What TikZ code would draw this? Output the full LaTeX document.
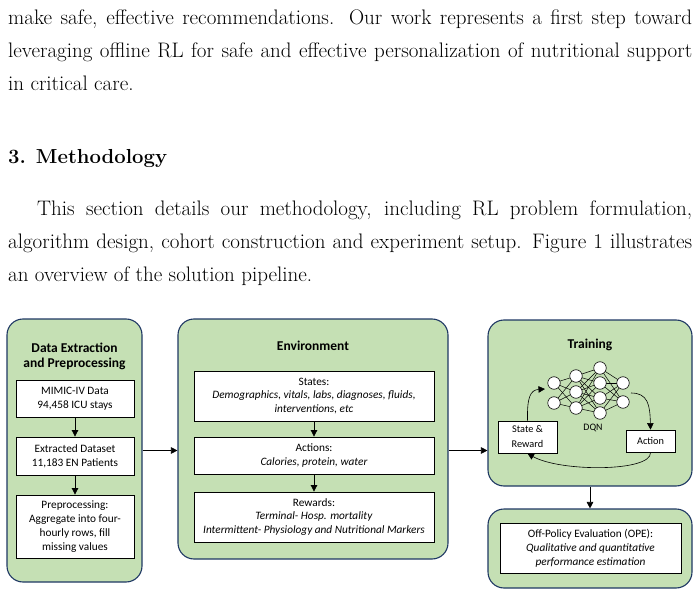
\documentclass[tikz,border=0pt]{standalone}
\usepackage{fontspec}
\newfontfamily\carl{Carlito}
\usetikzlibrary{arrows.meta,calc}
\definecolor{pgreen}{HTML}{C5E0B4}
\definecolor{pnavy}{HTML}{1F3864}
\tikzset{
  paper/.style={anchor=base west, inner sep=0pt, font=\fontsize{21}{33}\selectfont},
  panel/.style={draw=pnavy, line width=1.1pt, fill=pgreen, rounded corners=16pt, inner sep=0pt},
  ptitle/.style={inner sep=0pt, align=center, font=\carl\bfseries\fontsize{13.5}{15.5}\selectfont},
  box/.style={draw=black, line width=0.8pt, fill=white, inner sep=0pt, align=center, font=\carl\fontsize{11.3}{13.8}\selectfont},
  sbox/.style={draw=black, line width=0.8pt, fill=white, inner sep=0pt, align=center, font=\carl\fontsize{10.3}{15}\selectfont},
  arr/.style={-{Triangle[length=6.5pt,width=6.5pt]}, line width=0.7pt},
  nn/.style={circle, draw=black, line width=0.6pt, fill=white, minimum size=12.5pt, inner sep=0pt},
  nnline/.style={line width=0.5pt}
}
\begin{document}
\begin{tikzpicture}[x=1pt,y=-1pt]
\useasboundingbox (0,0) rectangle (699,596);
% paper text
\node[paper] (t1) at (8,25) {\makebox[684pt][s]{make safe, effective recommendations. Our work represents a first step toward}};
\node[paper] (t2) at (8,58) {\makebox[684pt][s]{leveraging offline RL for safe and effective personalization of nutritional support}};
\node[paper] (t3) at (8,91) {in critical care.};
\node[paper, font=\bfseries\fontsize{20.3}{33}\selectfont] (h) at (8,164) {3.\hspace{10pt}Methodology};
\node[paper] (p1) at (8,216) {\makebox[684pt][s]{\hspace{29pt}This section details our methodology, including RL problem formulation,}};
\node[paper] (p2) at (8,249) {\makebox[684pt][s]{algorithm design, cohort construction and experiment setup. Figure 1 illustrates}};
\node[paper] (p3) at (8,282) {an overview of the solution pipeline.};

% panels
\node[panel, minimum width=135pt, minimum height=263pt] (lp) at (74.5,450.5) {};
\node[panel, minimum width=270pt, minimum height=240pt] (env) at (313,439) {};
\node[panel, minimum width=204pt, minimum height=166pt] (tr) at (590,403) {};
\node[panel, minimum width=204pt, minimum height=79pt] (ope) at (590,548.5) {};

% titles
\node[ptitle] (lpt) at (74.5,356.5) {Data Extraction\\and Preprocessing};
\node[ptitle] (envt) at (313,346) {Environment};
\node[ptitle] (trt) at (590,345) {Training};

% left boxes
\node[box, minimum width=118pt, minimum height=37pt] (mimic) at (75,398.5) {MIMIC-IV Data\\94,458 ICU stays};
\node[box, minimum width=118pt, minimum height=38pt] (ext) at (75,456) {Extracted Dataset\\11,183 EN Patients};
\node[box, minimum width=118pt, minimum height=63pt] (pre) at (75,526.5) {Preprocessing:\\Aggregate into four-\\hourly rows, fill\\missing values};

% env boxes
\node[box, minimum width=240pt, minimum height=50pt] (st) at (314,396) {States:\\\textit{Demographics, vitals, labs, diagnoses, fluids,}\\\textit{interventions, etc}};
\node[box, minimum width=240pt, minimum height=37pt] (ac) at (314,455.5) {Actions:\\\textit{Calories, protein, water}};
\node[box, minimum width=240pt, minimum height=50pt] (rw) at (314,517) {Rewards:\\\textit{Terminal- Hosp. mortality}\\\textit{Intermittent- Physiology and Nutritional Markers}};

% ope box
\node[box, minimum width=181pt, minimum height=50pt] (opeb) at (590.5,548) {Off-Policy Evaluation (OPE):\\\textit{Qualitative and quantitative}\\\textit{performance estimation}};

% training boxes
\node[sbox, minimum width=59pt, minimum height=32pt] (sr) at (527.5,437) {State \&\\Reward};
\node[sbox, minimum width=49pt, minimum height=22pt] (act) at (650.5,441) {Action};
\node[inner sep=0pt, font=\carl\fontsize{9.9}{11}\selectfont] (dqn) at (593,428) {DQN};

% connectors
\draw[arr] (mimic.south) -- (ext.north);
\draw[arr] (ext.south) -- (pre.north);
\draw[arr] (st.south) -- (ac.north);
\draw[arr] (ac.south) -- (rw.north);
\draw[arr] (lp.east) -- (lp.east -| env.west);
\draw[arr] (env.east |- lp.east) -- (tr.west |- lp.east);
\draw[arr] (tr.south) -- (ope.north);

% neural net
\foreach \y [count=\i] in {383,403} \coordinate (a\i) at (554,\y);
\foreach \y [count=\i] in {376,392,408} \coordinate (b\i) at (576,\y);
\foreach \y [count=\i] in {368,383,398,413} \coordinate (c\i) at (600,\y);
\foreach \y [count=\i] in {383,402} \coordinate (d\i) at (623,\y);
\foreach \i in {1,2} \foreach \j in {1,2,3} \draw[nnline] (a\i) -- (b\j);
\foreach \i in {1,2,3} \foreach \j in {1,2,3,4} \draw[nnline] (b\i) -- (c\j);
\foreach \i in {1,2,3,4} \foreach \j in {1,2} \draw[nnline] (c\i) -- (d\j);
\foreach \i in {1,2} \node[nn] (na\i) at (a\i) {};
\foreach \i in {1,2,3} \node[nn] (nb\i) at (b\i) {};
\foreach \i in {1,2,3,4} \node[nn] (nc\i) at (c\i) {};
\foreach \i in {1,2} \node[nn] (nd\i) at (d\i) {};

\coordinate (nnin) at (545,389);
\coordinate (nnout) at (631,393);
\draw[arr, line width=0.6pt] (sr.north) .. controls (527,398) and (530,390) .. (nnin);
\draw[arr, line width=0.6pt] (nnout) .. controls (648,393) and (650,405) .. (act.north);
\draw[arr, line width=0.6pt] (act.south) .. controls (652,472) and (560,472) .. (sr.south);
\end{tikzpicture}
\end{document}
